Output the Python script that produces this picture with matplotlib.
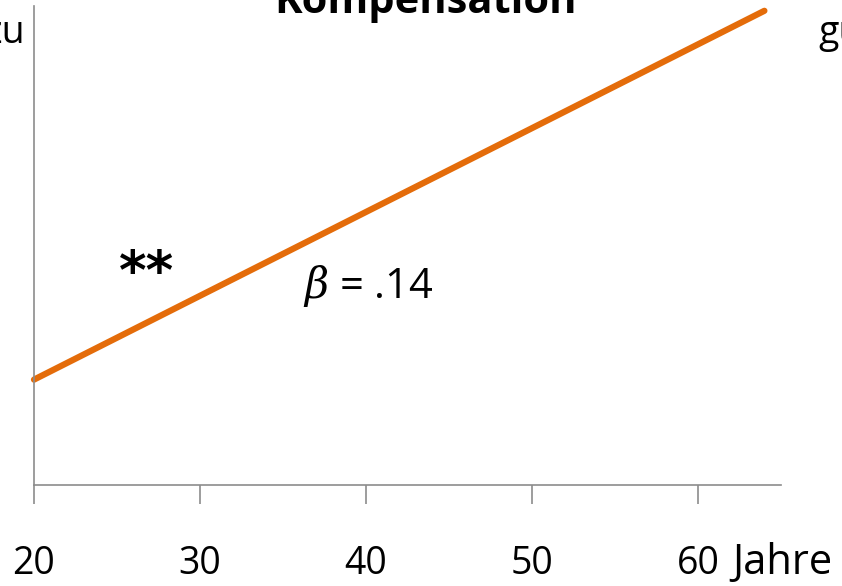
import matplotlib
matplotlib.use("Agg")
import matplotlib.pyplot as plt

# data
alter = [20, 64]
kompensation = [22, 99]
xticks = [20, 30, 40, 50, 60]
xticklabels = ["20", "30", "40", "50", "60"]
titel = "Kompensation"
beta_text = r"$\beta$ = .14"
signif = "**"

plt.rcParams['font.family'] = ['Open Sans', 'DejaVu Sans']
plt.rcParams['mathtext.fontset'] = 'dejavuserif'

fig = plt.figure(figsize=(8.42, 5.86), dpi=100)
ax = fig.add_axes([34 / 842, 101 / 586, 747 / 842, 479 / 586])

orange = "#E46C0A"
grey = "#8c8c8c"

ax.plot(alter, kompensation, color=orange, lw=4.5, solid_capstyle="round", clip_on=False)

ax.set_xlim(20, 65)
ax.set_ylim(0, 100)
ax.set_xticks(xticks)
ax.set_xticklabels(xticklabels, fontsize=27)
ax.set_yticks([])
ax.tick_params(axis="x", direction="out", length=14, width=1.2, color=grey, pad=29)

for s in ["top", "right"]:
    ax.spines[s].set_visible(False)
for s in ["left", "bottom"]:
    ax.spines[s].set_color(grey)
    ax.spines[s].set_linewidth(1.2)

# "Jahre" behind the 60 label
fig.text(732 / 842, 1 - 574 / 586, "Jahre", fontsize=30, ha="left", va="baseline")

ax.text(25.1, 44, signif, fontsize=38, fontweight="bold", ha="left", va="center",
        family="DejaVu Sans")
ax.text(36.2, 41.5, beta_text, fontsize=30, ha="left", va="center")

fig.text(425 / 842, 1 - 13 / 586, titel, fontsize=30, fontweight="bold",
         ha="center", va="baseline")
fig.text(25 / 842, 1 - 43 / 586, "zu", fontsize=27, ha="right", va="baseline")
fig.text(818 / 842, 1 - 43 / 586, "gu", fontsize=27, ha="left", va="baseline")

fig.savefig("out.png", dpi=100)
